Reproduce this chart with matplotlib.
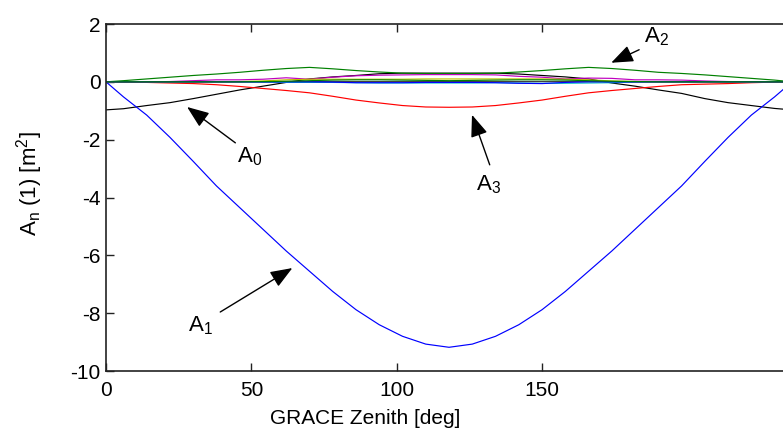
import matplotlib
matplotlib.use("Agg")
import matplotlib.pyplot as plt

plt.rcParams['font.family'] = ['Liberation Sans', 'DejaVu Sans']
plt.rcParams['mathtext.fontset'] = 'custom'
plt.rcParams['mathtext.rm'] = 'Liberation Sans'
plt.rcParams['mathtext.it'] = 'Liberation Sans'
plt.rcParams['mathtext.default'] = 'regular'
plt.rcParams['axes.unicode_minus'] = False

# ---- data (x in the axis' own units) ----
zenith = [0, 6, 14, 22, 30, 38, 46, 54, 62, 70, 78, 86, 94, 102, 110, 118,
          126, 134, 142, 150, 158, 166, 174, 182, 190, 198, 206, 214, 222, 230, 236]

A0 = [-0.97, -0.93, -0.82, -0.72, -0.58, -0.43, -0.28, -0.15, -0.02, 0.10, 0.17,
      0.22, 0.28, 0.30, 0.30, 0.30, 0.30, 0.30, 0.27, 0.22, 0.17, 0.10, -0.04,
      -0.15, -0.28, -0.40, -0.58, -0.72, -0.82, -0.92, -0.97]
A1 = [0.0, -0.52, -1.15, -1.92, -2.75, -3.6, -4.35, -5.1, -5.85, -6.55, -7.25, -7.88,
      -8.4, -8.8, -9.07, -9.18, -9.07, -8.8, -8.4, -7.88, -7.25, -6.55, -5.85,
      -5.1, -4.35, -3.6, -2.75, -1.92, -1.15, -0.52, 0.0]
A2 = [0.0, 0.04, 0.10, 0.16, 0.22, 0.27, 0.33, 0.40, 0.46, 0.50, 0.45, 0.39, 0.34,
      0.30, 0.29, 0.29, 0.29, 0.30, 0.34, 0.39, 0.45, 0.50, 0.46, 0.40, 0.33, 0.29,
      0.24, 0.18, 0.12, 0.06, 0.0]
A3 = [0.0, -0.01, -0.02, -0.04, -0.06, -0.10, -0.16, -0.23, -0.30, -0.38, -0.50,
      -0.63, -0.73, -0.82, -0.87, -0.88, -0.87, -0.82, -0.73, -0.63, -0.50, -0.38,
      -0.30, -0.23, -0.16, -0.10, -0.08, -0.06, -0.03, -0.01, 0.0]
A4 = [0, 0, 0, 0, 0, 0, 0, -0.01, -0.02, -0.02, -0.02, -0.03, -0.04, -0.04, -0.04,
      -0.04, -0.04, -0.03, -0.04, -0.05, -0.05, -0.04, -0.03, -0.01, 0, 0, 0, 0, 0, 0, 0]
A5 = [0, 0, 0, 0.01, 0.04, 0.07, 0.07, 0.09, 0.14, 0.09, 0.16, 0.21, 0.23, 0.24,
      0.25, 0.25, 0.25, 0.24, 0.19, 0.16, 0.10, 0.13, 0.12, 0.07, 0.07, 0.06, 0.03,
      0.01, 0, 0, 0]
A6 = [0, 0, 0, 0, 0, 0, 0.01, 0.03, 0.07, 0.09, 0.09, 0.09, 0.09, 0.09, 0.10, 0.10,
      0.10, 0.10, 0.10, 0.10, 0.09, 0.07, 0.03, 0.01, 0, 0, 0, 0, 0, 0, 0]
A7 = [0, 0, 0, 0, 0, 0, 0, 0, 0.01, 0.01, 0.01, 0.01, 0.01, 0.01, 0.01, 0.01, 0.01,
      0.01, 0.01, 0.01, 0.01, 0.01, 0.01, 0, 0, 0, 0, 0, 0, 0, 0]
A8 = [0, 0, 0, 0, 0, 0, 0, 0, 0, 0, -0.01, -0.03, -0.03, -0.03, -0.02, -0.02, -0.02,
      -0.03, -0.05, -0.06, -0.02, 0, 0, 0, 0, 0, 0, 0, 0, 0, 0]
A9 = [0, 0, 0, 0, 0, 0, 0, 0.01, 0.02, 0.04, 0.06, 0.07, 0.07, 0.06, 0.05, 0.04,
      0.05, 0.06, 0.07, 0.07, 0.06, 0.04, 0.02, 0.01, 0, 0, 0, 0, 0, 0, 0]

series = [A0, A1, A2, A3, A4, A5, A6, A7, A8, A9]
colors = ['k', (0, 0, 1), (0, 0.5, 0), (1, 0, 0), (0, 0.75, 0.75), (0.75, 0, 0.75),
          (0.75, 0.75, 0), (0.25, 0.25, 0.25), (0, 0, 1), (0, 0.5, 0)]

xticks = [0, 50, 100, 150]
yticks = [-10, -8, -6, -4, -2, 0, 2]

# annotations: (label, text pos, arrow tail, arrow tip)
notes = [
    ('A$_0$', (49.5, -2.6), (44.5, -2.11), (27.9, -0.87)),
    ('A$_1$', (32.4, -8.44), (39.3, -7.96), (64.1, -6.44)),
    ('A$_2$', (189.3, 1.56), (183.4, 1.11), (173.8, 0.66)),
    ('A$_3$', (131.7, -3.56), (132.0, -2.87), (125.9, -1.14)),
]

W, H = 783, 444
fig = plt.figure(figsize=(W / 100, H / 100), dpi=100)
left, right, top, bottom = 106, 800, 24, 371
ax = fig.add_axes([left / W, (H - bottom) / H, (right - left) / W, (bottom - top) / H])

for s, c in zip(series, colors):
    ax.plot(zenith, s, color=c, lw=0.85)

ax.set_xlim(0, (right - left) / 2.907)
ax.set_ylim(-10, 2)
ax.set_xticks(xticks)
ax.set_yticks(yticks)
ax.tick_params(direction='in', top=True, right=True, length=5.5, width=1.0,
               labelsize=15, color='#222222')
ax.tick_params(axis='x', pad=7)
ax.tick_params(axis='y', pad=4)
for sp in ax.spines.values():
    sp.set_color('#222222')
    sp.set_linewidth(1.2)

ax.set_xlabel('GRACE Zenith [deg]', fontsize=15)
ax.xaxis.set_label_coords((365 - left) / (right - left), -0.11)
ax.set_ylabel('A$_\\mathrm{n}$ (1) [m$^\\mathrm{2}$]', fontsize=16)
ax.yaxis.set_label_coords(-0.088, 0.54)

for lab, tp, tail, tip in notes:
    ax.annotate('', xy=tip, xytext=tail,
                arrowprops=dict(arrowstyle='-|>,head_length=0.9,head_width=0.35',
                                color='k', lw=1.0, mutation_scale=15,
                                shrinkA=0, shrinkB=0))
    ax.text(tp[0], tp[1], lab, fontsize=16, ha='center', va='center')

fig.savefig('out.png', dpi=100)
